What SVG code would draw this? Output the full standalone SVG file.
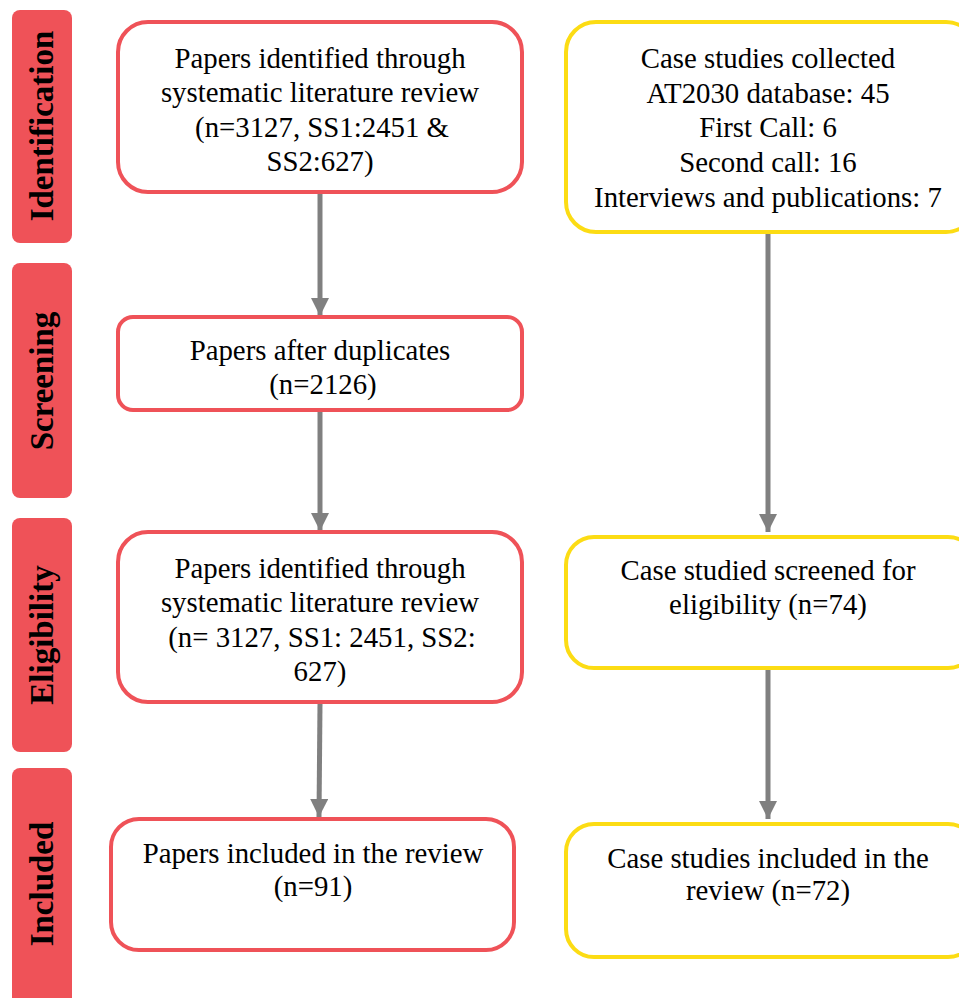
<svg xmlns="http://www.w3.org/2000/svg" width="959" height="998" viewBox="0 0 959 998">
<style>
.stage{fill:#EF5258;}
.stxt{font-family:"Liberation Serif","Times New Roman",serif;font-weight:bold;font-size:33px;fill:#000;text-anchor:middle;}
.red{fill:#fff;stroke:#EF5258;stroke-width:4;}
.yel{fill:#fff;stroke:#FCDC14;stroke-width:4;}
.t{font-family:"Liberation Serif","Times New Roman",serif;font-size:28.8px;fill:#000;text-anchor:middle;}
.conn{stroke:#808080;stroke-width:5;fill:none;marker-end:url(#ah);}
</style>
<defs>
<marker id="ah" markerUnits="userSpaceOnUse" markerWidth="20" markerHeight="18" refX="18" refY="9" orient="auto">
<path d="M0,0 L18,9 L0,18 Z" fill="#808080"/>
</marker>
</defs>
<rect width="959" height="998" fill="#fff"/>
<g id="stage-identification">
<rect class="stage" x="12" y="10" width="60" height="233" rx="8"/>
<text class="stxt" transform="translate(53,126) rotate(-90)">Identification</text>
</g>
<g id="stage-screening">
<rect class="stage" x="12" y="263" width="60" height="235" rx="8"/>
<text class="stxt" transform="translate(53,381) rotate(-90)">Screening</text>
</g>
<g id="stage-eligibility">
<rect class="stage" x="12" y="518" width="60" height="234" rx="8"/>
<text class="stxt" transform="translate(53,635) rotate(-90)">Eligibility</text>
</g>
<g id="stage-included">
<rect class="stage" x="12" y="768" width="60" height="240" rx="8"/>
<text class="stxt" transform="translate(53,884) rotate(-90)">Included</text>
</g>
<g id="connectors">
<line class="conn" x1="320" y1="194" x2="320" y2="316"/>
<line class="conn" x1="320" y1="411" x2="320" y2="531"/>
<line class="conn" x1="320" y1="703" x2="319" y2="817"/>
<line class="conn" x1="768" y1="233" x2="768" y2="532"/>
<line class="conn" x1="768" y1="669" x2="768" y2="819"/>
</g>
<g id="n1">
<rect class="red" x="118" y="22" width="404" height="170" rx="30"/>
<text class="t"><tspan x="320" y="68">Papers identified through</tspan><tspan x="320" y="102">systematic literature review</tspan><tspan x="322" y="137">(n=3127, SS1:2451 &amp;</tspan><tspan x="320" y="171">SS2:627)</tspan></text>
</g>
<g id="n2">
<rect class="yel" x="566" y="22" width="410" height="210" rx="30"/>
<text class="t"><tspan x="768" y="68">Case studies collected</tspan><tspan x="768" y="103">AT2030 database: 45</tspan><tspan x="768" y="137">First Call: 6</tspan><tspan x="768" y="172">Second call: 16</tspan><tspan x="768" y="207">Interviews and publications: 7</tspan></text>
</g>
<g id="n3">
<rect class="red" x="118" y="317" width="404" height="93" rx="15"/>
<text class="t"><tspan x="320" y="360">Papers after duplicates</tspan><tspan x="323" y="394">(n=2126)</tspan></text>
</g>
<g id="n4">
<rect class="red" x="118" y="532" width="404" height="170" rx="30"/>
<text class="t"><tspan x="320" y="578">Papers identified through</tspan><tspan x="320" y="612">systematic literature review</tspan><tspan x="322" y="647">(n= 3127, SS1: 2451, SS2:</tspan><tspan x="320" y="681">627)</tspan></text>
</g>
<g id="n5">
<rect class="yel" x="566" y="537" width="410" height="131" rx="28"/>
<text class="t"><tspan x="768" y="580">Case studied screened for</tspan><tspan x="768" y="614">eligibility (n=74)</tspan></text>
</g>
<g id="n6">
<rect class="red" x="111" y="819" width="403" height="131" rx="28"/>
<text class="t"><tspan x="313" y="863">Papers included in the review</tspan><tspan x="313" y="896">(n=91)</tspan></text>
</g>
<g id="n7">
<rect class="yel" x="566" y="824" width="410" height="133" rx="28"/>
<text class="t"><tspan x="768" y="868">Case studies included in the</tspan><tspan x="768" y="900">review (n=72)</tspan></text>
</g>
</svg>
